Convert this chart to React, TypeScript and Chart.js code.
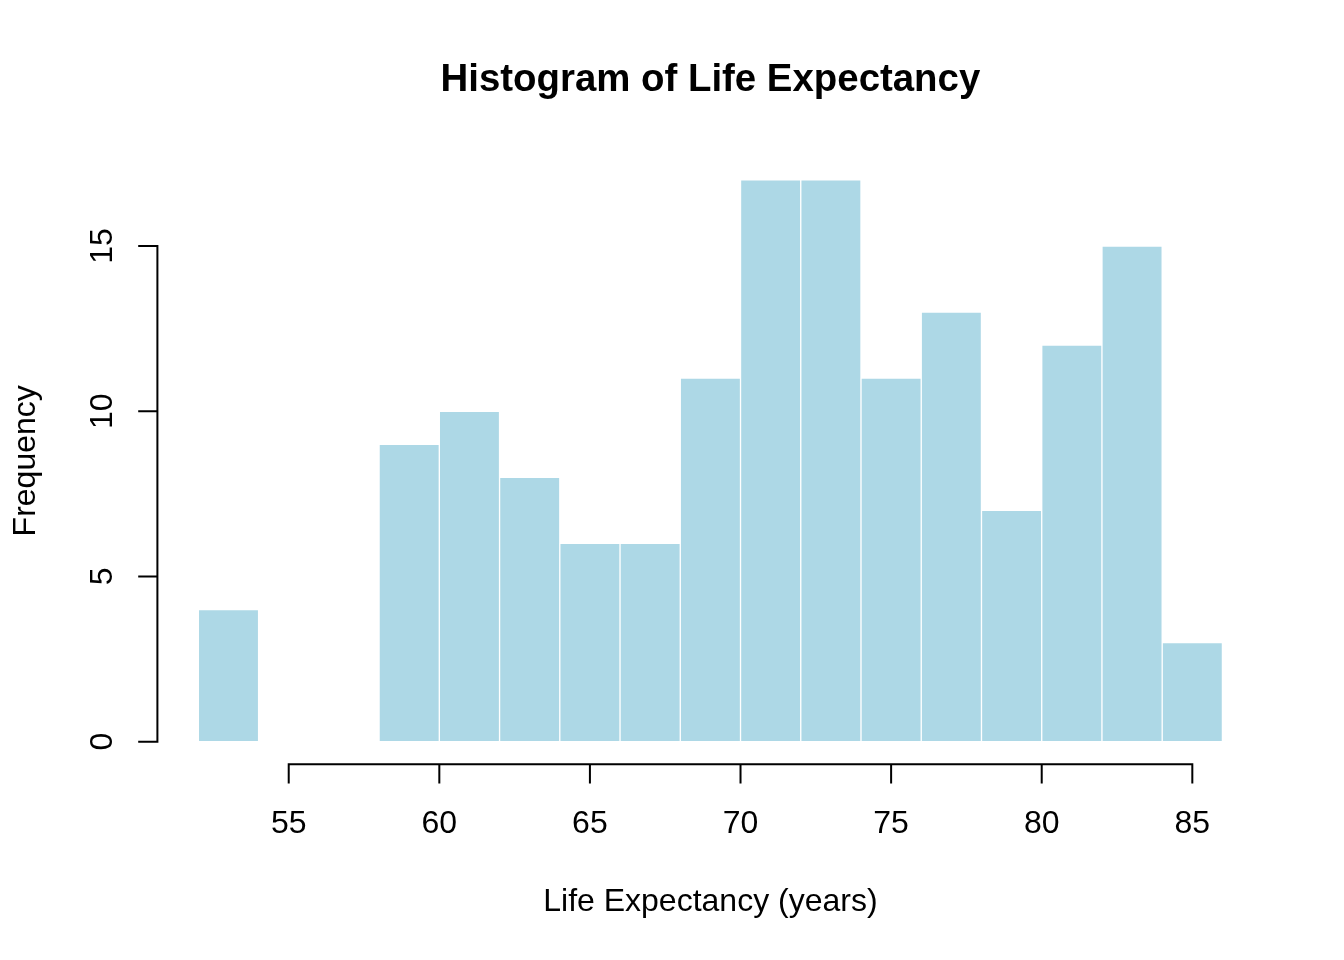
import React, { useEffect, useRef } from "react";
import { Chart, registerables } from "chart.js";

Chart.register(...registerables);

// Histogram bins: midpoints (years) and counts
const binMids = [53, 55, 57, 59, 61, 63, 65, 67, 69, 71, 73, 75, 77, 79, 81, 83, 85];
const counts = [4, 0, 0, 9, 10, 8, 6, 6, 11, 17, 17, 11, 13, 7, 12, 15, 3];
const xTicks = [55, 60, 65, 70, 75, 80, 85];
const yTicks = [0, 5, 10, 15];
const titleText = "Histogram of Life Expectancy";
const xLabel = "Life Expectancy (years)";
const yLabel = "Frequency";

const FONT = '"Liberation Sans", Arial, sans-serif';

const rAxesPlugin = {
  id: "rAxes",
  afterDraw(chart: any) {
    const ctx = chart.ctx as CanvasRenderingContext2D;
    const xs = chart.scales.x;
    const ys = chart.scales.y;
    const area = chart.chartArea;
    ctx.save();
    ctx.strokeStyle = "#000";
    ctx.fillStyle = "#000";
    ctx.lineWidth = 2;
    ctx.lineCap = "butt";
    const tick = 19.2;

    // x axis
    const xb = area.bottom;
    const x0 = xs.getPixelForValue(xTicks[0]);
    const x1 = xs.getPixelForValue(xTicks[xTicks.length - 1]);
    ctx.beginPath();
    ctx.moveTo(x0 - 1, xb);
    ctx.lineTo(x1 + 1, xb);
    for (const t of xTicks) {
      const px = xs.getPixelForValue(t);
      ctx.moveTo(px, xb);
      ctx.lineTo(px, xb + tick);
    }
    ctx.stroke();
    ctx.font = `32px ${FONT}`;
    ctx.textAlign = "center";
    ctx.textBaseline = "alphabetic";
    for (const t of xTicks) {
      ctx.fillText(String(t), xs.getPixelForValue(t), xb + 69);
    }

    // y axis
    const yl = area.left;
    const y0 = ys.getPixelForValue(yTicks[0]);
    const y1 = ys.getPixelForValue(yTicks[yTicks.length - 1]);
    ctx.beginPath();
    ctx.moveTo(yl, y0 + 1);
    ctx.lineTo(yl, y1 - 1);
    for (const t of yTicks) {
      const py = ys.getPixelForValue(t);
      ctx.moveTo(yl, py);
      ctx.lineTo(yl - tick, py);
    }
    ctx.stroke();
    for (const t of yTicks) {
      const py = ys.getPixelForValue(t);
      ctx.save();
      ctx.translate(yl - 45, py);
      ctx.rotate(-Math.PI / 2);
      ctx.fillText(String(t), 0, 0);
      ctx.restore();
    }

    // axis titles
    const cx = (area.left + area.right) / 2;
    const cy = (area.top + area.bottom) / 2;
    ctx.fillText(xLabel, cx, xb + 147);
    ctx.save();
    ctx.translate(35, cy);
    ctx.rotate(-Math.PI / 2);
    ctx.fillText(yLabel, 0, 0);
    ctx.restore();

    // main title
    ctx.font = `bold 38.4px ${FONT}`;
    ctx.fillText(titleText, cx, 91);
    ctx.restore();
  },
};

export default function App() {
  const ref = useRef<HTMLCanvasElement | null>(null);
  useEffect(() => {
    document.body.style.margin = "0";
    const canvas = ref.current;
    if (!canvas) return;
    const chart = new Chart(canvas, {
      type: "bar",
      data: {
        datasets: [
          {
            data: binMids.map((m, i) => ({ x: m, y: counts[i] })),
            backgroundColor: "#ADD8E6",
            borderColor: "#FFFFFF",
            borderWidth: 1,
            borderSkipped: false,
            barPercentage: 1,
            categoryPercentage: 1,
          },
        ],
      },
      options: {
        animation: false,
        responsive: false,
        devicePixelRatio: 1,
        layout: { padding: { left: 157.4, right: 80.6, top: 157.4, bottom: 195.8 } },
        plugins: { legend: { display: false }, title: { display: false }, tooltip: { enabled: false } },
        scales: {
          x: { type: "linear", min: 50.64, max: 87.36, offset: false, display: false },
          y: { type: "linear", min: -0.68, max: 17.68, display: false },
        },
      },
      plugins: [rAxesPlugin],
    });
    return () => chart.destroy();
  }, []);
  return (
    <div style={{ position: "absolute", left: 0, top: 0, width: 1344, height: 960, background: "#fff" }}>
      <canvas ref={ref} width={1344} height={960} style={{ width: 1344, height: 960 }} />
    </div>
  );
}
